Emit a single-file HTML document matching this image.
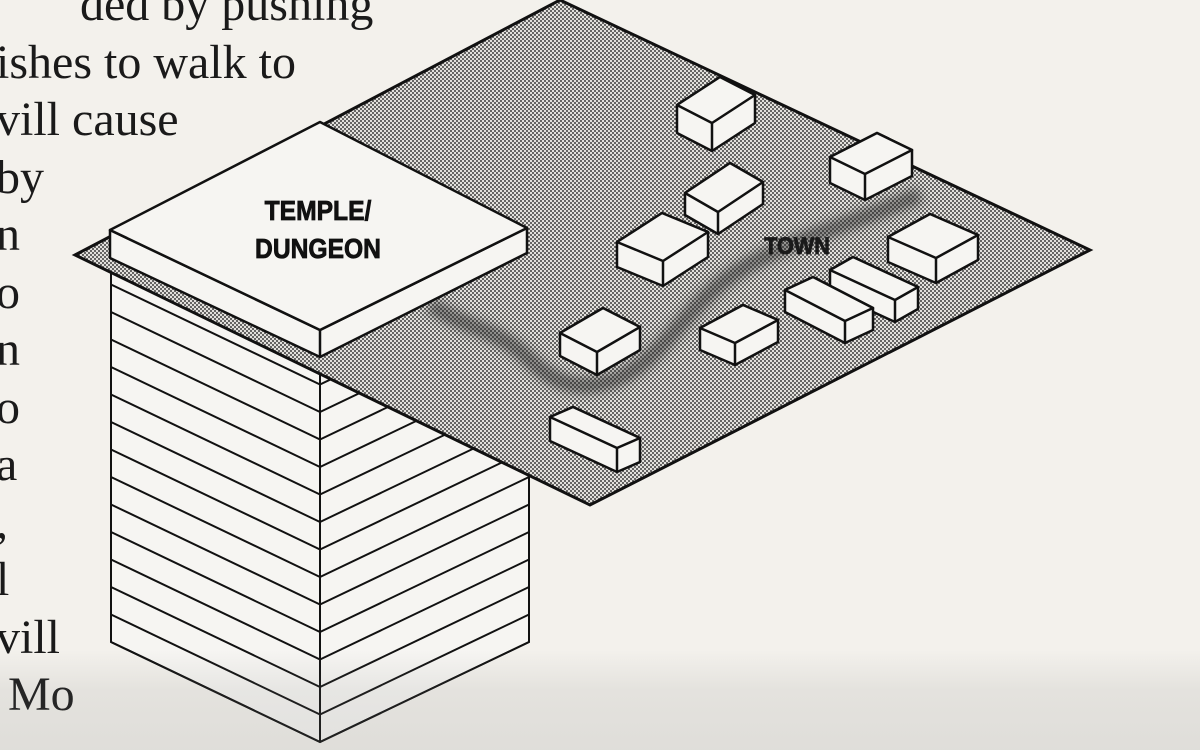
<!DOCTYPE html>
<html><head><meta charset="utf-8"><style>
html,body{margin:0;padding:0;width:1200px;height:750px;overflow:hidden;background:#f3f1ec}
#t{position:absolute;left:-4px;top:0;font-family:"Liberation Serif",serif;font-size:48px;color:#1a1a1a;line-height:57.5px}
#t div{height:57.5px;white-space:nowrap}
svg{position:absolute;left:0;top:0}
#fade{position:absolute;left:0;top:650px;width:1200px;height:100px;background:linear-gradient(to bottom,rgba(120,120,120,0),rgba(120,120,120,0.12) 40%,rgba(120,120,120,0.16))}
</style></head><body>
<div id="t" style="top:-24px">
<div>&nbsp;&nbsp;&nbsp;&nbsp;&nbsp;&nbsp;&nbsp;ded by pushing</div>
<div>ishes to walk to</div>
<div>vill cause</div>
<div>by</div>
<div>n</div>
<div>o</div>
<div>n</div>
<div>o</div>
<div>a</div>
<div>,</div>
<div>l</div>
<div>vill</div>
<div>&nbsp;Mo</div>
</div>
<svg id="s" width="1200" height="750" viewBox="0 0 1200 750">
<defs>
<pattern id="dot" width="4" height="4" patternUnits="userSpaceOnUse">
<rect width="4" height="4" fill="#e2e0dc"/>
<circle cx="1" cy="1" r="0.95" fill="#333"/><circle cx="3" cy="3" r="0.95" fill="#333"/>
</pattern>
<filter id="bl"><feGaussianBlur stdDeviation="5"/></filter>
</defs>
<g id="tower" stroke="#111" stroke-width="2" fill="none"></g>
<polygon points="75,255 560,0 1090,250 590,505" fill="url(#dot)" stroke="#111" stroke-width="3"/>
<path d="M430,305 C470,330 500,330 530,360 C555,385 585,395 625,375 C670,350 690,300 740,270 C790,240 850,225 920,195" stroke="#222" stroke-width="16" fill="none" opacity="0.5" filter="url(#bl)"/>
<text x="797" y="254" font-family="Liberation Sans,sans-serif" font-weight="bold" font-size="24" fill="#1a1a1a" text-anchor="middle" stroke="#1a1a1a" stroke-width="0.8" transform="translate(797,0) scale(0.9,1) translate(-797,0)">TOWN</text>
<g id="boxes" stroke="#111" stroke-width="2.5" fill="#f6f5f2" stroke-linejoin="round"></g>
<g stroke="#111" stroke-width="2.5" fill="#f6f5f2" stroke-linejoin="round">
<polygon points="110,230 110,258 320,357 527,253 527,228 320,330"/>
<polygon points="110,230 320,122 527,228 320,330"/>
<line x1="320" y1="330" x2="320" y2="357"/>
</g>
<g font-family="Liberation Sans,sans-serif" font-weight="bold" font-size="28" fill="#111" stroke="#111" stroke-width="0.8" text-anchor="middle">
<text x="318" y="220" transform="translate(318,0) scale(0.88,1) translate(-318,0)">TEMPLE/</text>
<text x="318" y="258" transform="translate(318,0) scale(0.88,1) translate(-318,0)">DUNGEON</text>
</g>
</svg>
<div id="fade"></div>
<script>
var ns="http://www.w3.org/2000/svg";
function el(p,n,a){var e=document.createElementNS(ns,n);for(var k in a)e.setAttribute(k,a[k]);p.appendChild(e);return e;}
var t=document.getElementById('tower');
el(t,'polygon',{points:'111,258 111,642 320,742 529,642 529,253 320,357',fill:'#f6f5f2'});
el(t,'line',{x1:320,y1:357,x2:320,y2:742});
for(var k=0;k<15;k++){var v=742-27.5*k;
 el(t,'line',{x1:111,y1:v-100,x2:320,y2:v});
 el(t,'line',{x1:320,y1:v,x2:529,y2:v-100});}
var b=document.getElementById('boxes');
var B=[[677,105,720,77,755,95,28],[830,157,877,133,912,150,26],[685,193,730,163,763,182,22],[617,242,662,213,708,232,25],[888,237,930,214,978,235,25],[830,270,853,257,918,287,22],[785,290,813,277,873,308,22],[700,328,743,305,778,320,22],[560,333,603,308,640,327,23],[550,417,573,407,640,438,24]];
B.forEach(function(q){var Lx=q[0],Ly=q[1],Tx=q[2],Ty=q[3],Rx=q[4],Ry=q[5],d=q[6];
 var Bx=Lx+Rx-Tx,By=Ly+Ry-Ty;
 el(b,'polygon',{points:[Lx,Ly,Lx,Ly+d,Bx,By+d,Rx,Ry+d,Rx,Ry,Tx,Ty].join(',')});
 el(b,'polygon',{points:[Lx,Ly,Tx,Ty,Rx,Ry,Bx,By].join(',')});
 el(b,'line',{x1:Bx,y1:By,x2:Bx,y2:By+d});
});
</script>
</body></html>
